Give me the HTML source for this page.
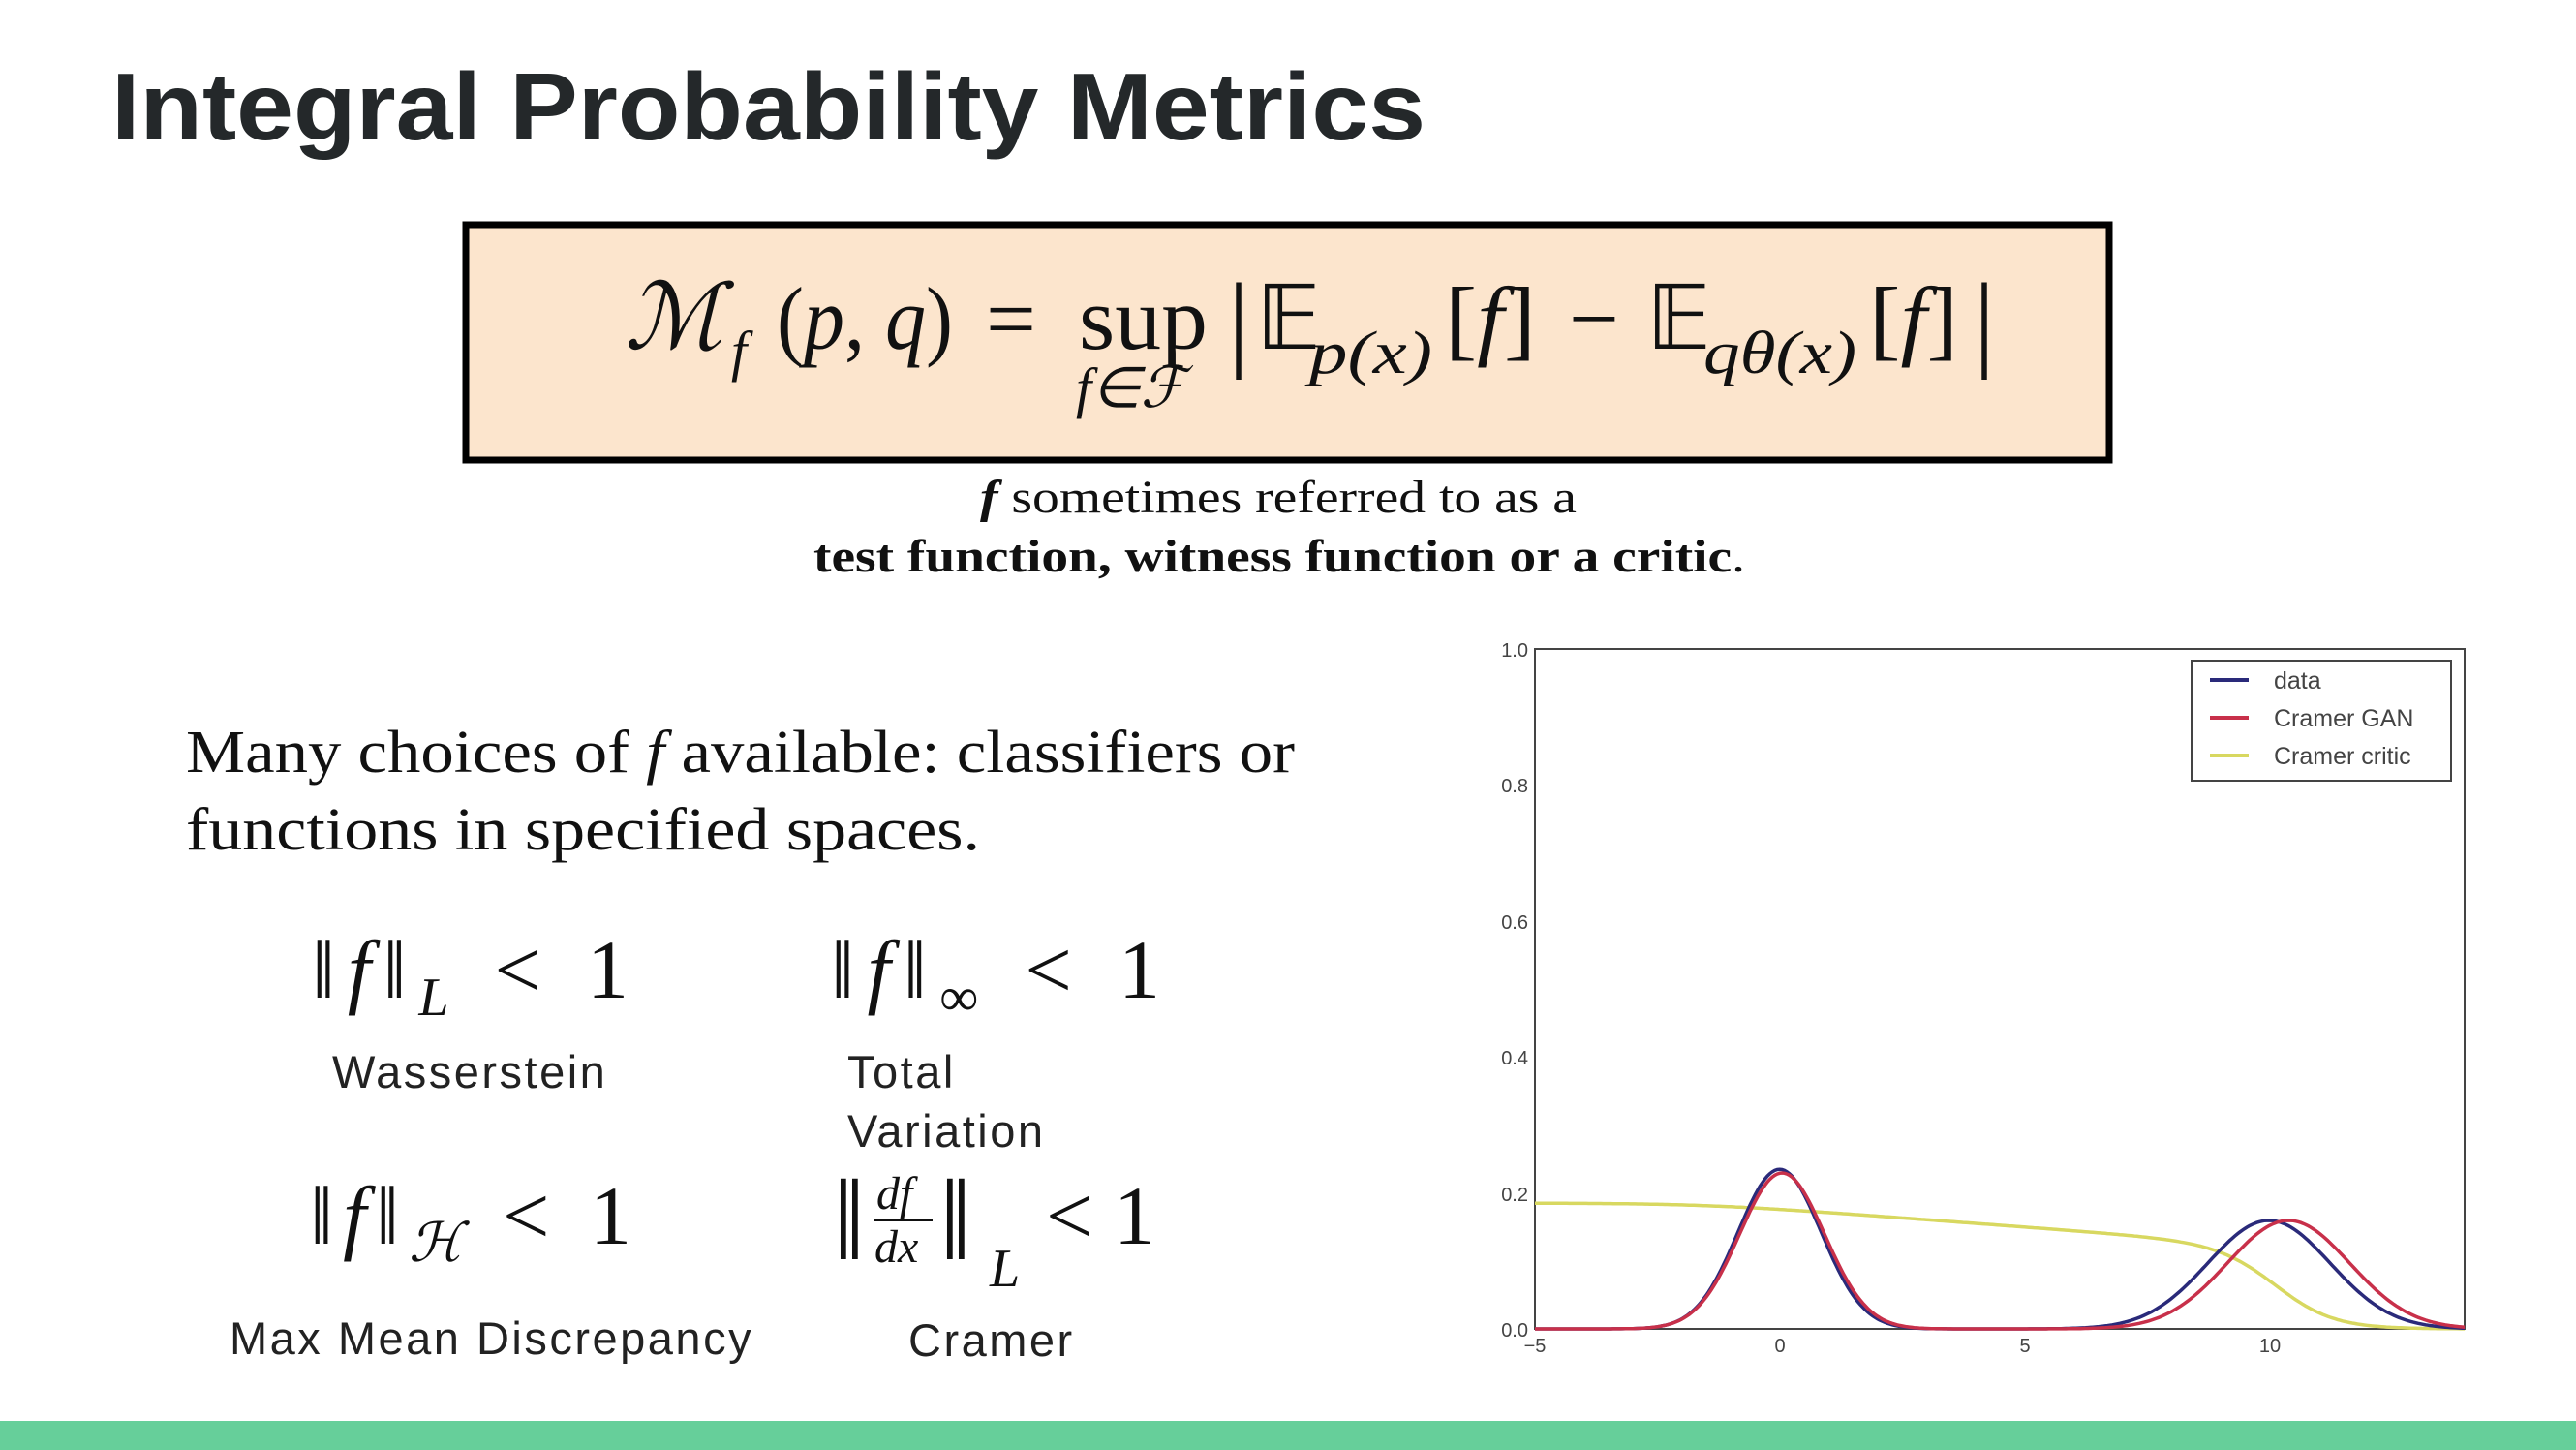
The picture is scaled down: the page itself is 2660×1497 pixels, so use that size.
<!DOCTYPE html>
<html><head><meta charset="utf-8"><style>
html,body{margin:0;padding:0;background:#fff;}
svg{display:block;}
.s{font-family:"Liberation Serif",serif;}
.m{font-family:"Liberation Serif",serif;font-style:italic;}
.a{font-family:"Liberation Sans",sans-serif;}
</style></head><body>
<svg id="sv" width="2660" height="1497" viewBox="0 0 2660 1497" xmlns="http://www.w3.org/2000/svg">
<rect width="2660" height="1497" fill="#fff"/>
<text x="115" y="144" class="a" font-weight="bold" font-size="98" fill="#24282a" textLength="1357" lengthAdjust="spacingAndGlyphs">Integral Probability Metrics</text>
<rect x="481" y="232" width="1697" height="243" fill="#fce5cd" stroke="#000" stroke-width="7"/>
<g fill="#111">
<text x="645" y="360" class="m" font-size="95">ℳ</text>
<text x="755" y="382" class="m" font-size="58">f</text>
<text x="802" y="360" class="s" font-size="92" textLength="182" lengthAdjust="spacingAndGlyphs">(<tspan font-style="italic">p</tspan>, <tspan font-style="italic">q</tspan>)</text>
<text x="1018" y="360" class="s" font-size="92">=</text>
<text x="1114" y="360" class="s" font-size="92" textLength="133" lengthAdjust="spacingAndGlyphs">sup</text>
<text x="1111" y="420" class="m" font-size="58">f∈ℱ</text>
<text x="1268" y="368" class="s" font-size="110">|</text>
<text x="1297" y="360" class="s" font-size="92">𝔼</text>
<text x="1352" y="385" class="m" font-size="62" textLength="127" lengthAdjust="spacingAndGlyphs">p(x)</text>
<text x="1492" y="360" class="s" font-size="92" textLength="94" lengthAdjust="spacingAndGlyphs">[<tspan font-style="italic">f</tspan>]</text>
<text x="1620" y="360" class="s" font-size="92">−</text>
<text x="1700" y="360" class="s" font-size="92">𝔼</text>
<text x="1759" y="385" class="m" font-size="62" textLength="158" lengthAdjust="spacingAndGlyphs">qθ(x)</text>
<text x="1930" y="360" class="s" font-size="92" textLength="92" lengthAdjust="spacingAndGlyphs">[<tspan font-style="italic">f</tspan>]</text>
<text x="2038" y="368" class="s" font-size="110">|</text>
</g>
<text x="1012" y="529" class="s" font-size="48" fill="#111" textLength="616" lengthAdjust="spacingAndGlyphs"><tspan font-weight="bold" font-style="italic">f</tspan> sometimes referred to as a</text>
<text x="840" y="590" class="s" font-size="48" fill="#111" textLength="962" lengthAdjust="spacingAndGlyphs"><tspan font-weight="bold">test function, witness function or a critic</tspan>.</text>
<text x="192" y="797" class="s" font-size="62" fill="#111" textLength="1145" lengthAdjust="spacingAndGlyphs">Many choices of <tspan font-style="italic">f</tspan> available: classifiers or</text>
<text x="192" y="877" class="s" font-size="62" fill="#111" textLength="820" lengthAdjust="spacingAndGlyphs">functions in specified spaces.</text>
<g fill="#111" class="s">
<text x="322" y="1030" font-size="86" textLength="327" lengthAdjust="spacing">‖<tspan font-style="italic">f</tspan>‖<tspan font-style="italic" font-size="56" dy="18">L</tspan><tspan dy="-18"> &lt; 1</tspan></text>
<text x="858" y="1030" font-size="86" textLength="340" lengthAdjust="spacing">‖<tspan font-style="italic">f</tspan>‖<tspan font-size="56" dy="18">∞</tspan><tspan dy="-18"> &lt; 1</tspan></text>
<text x="320" y="1284" font-size="86" textLength="332" lengthAdjust="spacing">‖<tspan font-style="italic">f</tspan>‖<tspan font-style="italic" font-size="56" dy="18">ℋ</tspan><tspan dy="-18"> &lt; 1</tspan></text>
<text x="860" y="1300" font-size="120">‖</text>
<text x="905" y="1248" font-size="48" font-style="italic">df</text>
<rect x="903" y="1258" width="60" height="3"/>
<text x="903" y="1303" font-size="48" font-style="italic">dx</text>
<text x="970" y="1300" font-size="120">‖</text>
<text x="1022" y="1328" font-size="56" font-style="italic">L</text>
<text x="1080" y="1284" font-size="86">&lt; 1</text>
</g>
<g class="a" font-size="47" fill="#222" letter-spacing="2.5">
<text x="343" y="1123">Wasserstein</text>
<text x="875" y="1123">Total</text>
<text x="875" y="1184">Variation</text>
<text x="237" y="1398">Max Mean Discrepancy</text>
<text x="938" y="1400">Cramer</text>
</g>
<rect x="0" y="1467" width="2660" height="30" fill="#66cf9a"/>
<rect x="1585" y="670" width="960" height="702" fill="#fff" stroke="#444" stroke-width="2"/>
<g id="curves" fill="none" stroke-width="3.5"></g>
<g class="a" font-size="20" fill="#444" text-anchor="end">
<text x="1578" y="678">1.0</text>
<text x="1578" y="818">0.8</text>
<text x="1578" y="959">0.6</text>
<text x="1578" y="1099">0.4</text>
<text x="1578" y="1240">0.2</text>
<text x="1578" y="1380">0.0</text>
</g>
<g class="a" font-size="20" fill="#444" text-anchor="middle">
<text x="1585" y="1396">−5</text>
<text x="1838" y="1396">0</text>
<text x="2091" y="1396">5</text>
<text x="2344" y="1396">10</text>
</g>
<rect x="2263" y="682" width="268" height="124" fill="#fff" stroke="#444" stroke-width="2"/>
<line x1="2282" y1="702" x2="2322" y2="702" stroke="#2a2a7a" stroke-width="4"/>
<line x1="2282" y1="741" x2="2322" y2="741" stroke="#c8304a" stroke-width="4"/>
<line x1="2282" y1="780" x2="2322" y2="780" stroke="#d8d860" stroke-width="4"/>
<g class="a" font-size="25" fill="#444">
<text x="2348" y="711">data</text>
<text x="2348" y="750">Cramer GAN</text>
<text x="2348" y="789">Cramer critic</text>
</g>
</svg>
<script>
(function(){
function N(x,m,s){return Math.exp(-0.5*((x-m)/s)*((x-m)/s))/(s*Math.sqrt(2*Math.PI));}
function X(x){return 1585+(x+5)*50.53;}
function Y(y){return 1372-y*702;}
function path(f){var d='';for(var i=0;i<=380;i++){var x=-5+i*19/380;d+=(i?'L':'M')+X(x).toFixed(1)+','+Y(f(x)).toFixed(1);}return d;}
var crit=function(x){var b=0.185-0.006*Math.log(1+Math.exp(x+1.5))*0.9;if(x>1)b=Math.min(b,0.17-0.0055*(x-1)+0.002);return b/(1+Math.exp((x-10.2)/0.6));};
var data=function(x){return 0.5*N(x,0,0.85)+0.5*N(x,10,1.25);};
var gan=function(x){return 0.5*N(x,0.05,0.87)+0.5*N(x,10.4,1.25);};
var g=document.getElementById('curves');
[[crit,'#d8d860'],[data,'#2a2a7a'],[gan,'#c8304a']].forEach(function(c){
var p=document.createElementNS('http://www.w3.org/2000/svg','path');p.setAttribute('d',path(c[0]));p.setAttribute('stroke',c[1]);g.appendChild(p);});
})();
</script>
</body></html>
